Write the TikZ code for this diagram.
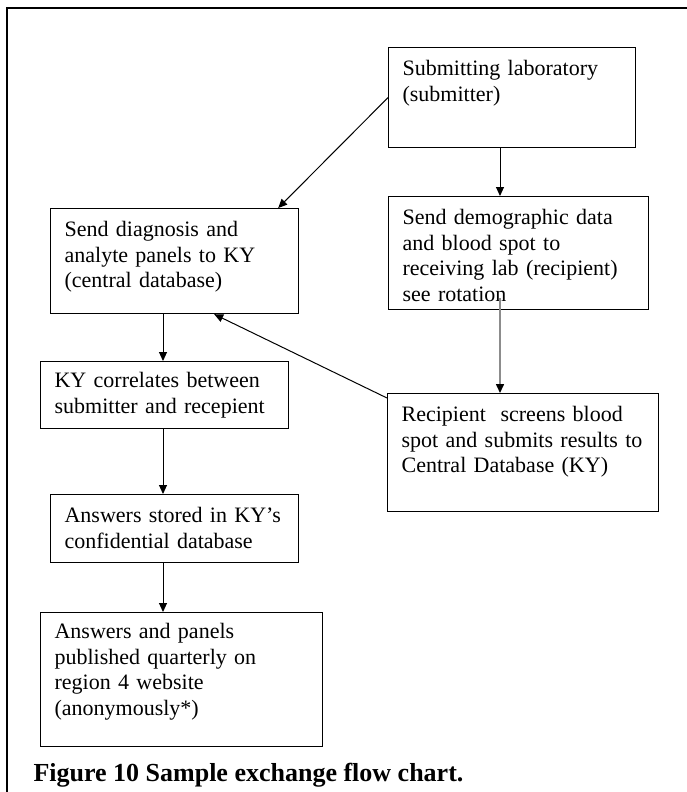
\documentclass[tikz,border=0pt]{standalone}
\usepackage{fontspec}
\setmainfont{Liberation Serif}
\usetikzlibrary{arrows.meta, positioning}
\tikzstyle{stepbox}=[draw, line width=1.2pt, anchor=north west, align=left, inner xsep=14pt, inner ysep=0pt, text height=28pt, font=\fontsize{22}{25.5}\selectfont]
\tikzstyle{flow}=[->, line width=1pt]

\begin{document}
\begin{tikzpicture}[x=1pt, y=-1pt, >={Triangle[length=9pt, width=8pt]}]
  \useasboundingbox (0,0) rectangle (687,792);
  % page frame
  \draw[line width=2.5pt] (7,792) -- (7,8) -- (687,8);

  \coordinate (rcol) at (500,0);
  \coordinate (lcol) at (163,0);

  \node[stepbox, text width=219pt, text depth=72pt] (sub)    at (388,47)  {Submitting laboratory\\(submitter)};
  \node[stepbox, text width=232pt, text depth=85pt] (demo)   at (388,196) {Send demographic data\\and blood spot to\\receiving lab (recipient)\\see rotation};
  \node[stepbox, text width=220pt, text depth=77pt] (diag)   at (50,208)  {Send diagnosis and\\analyte panels to KY\\(central database)};
  \node[stepbox, text width=243pt, text depth=90pt] (recip)  at (387,393) {Recipient~ screens blood\\spot and submits results to\\Central Database (KY)};
  \node[stepbox, text width=220pt, text depth=41pt, text height=26pt] (corr) at (40,361) {KY correlates between\\submitter and recepient};
  \node[stepbox, text width=220pt, text depth=40pt] (stored) at (50,494)  {Answers stored in KY's\\confidential database};
  \node[stepbox, text width=254pt, text depth=108pt, text height=26pt] (panels) at (40,612) {Answers and panels\\published quarterly on\\region 4 website\\(anonymously*)};

  \node[anchor=base west, font=\bfseries\fontsize{26}{30}\selectfont] (caption) at (30,781) {Figure 10 Sample exchange flow chart.};

  % connectors
  \draw[flow] (sub.south -| rcol) -- (demo.north -| rcol);
  \draw[flow] (sub.west) -- ([xshift=-21pt]diag.north east);
  \draw[-{Triangle[length=9pt, width=8pt, black]}, draw=black!45, line width=1.5pt] ([yshift=12pt]demo.south -| rcol) -- (recip.north -| rcol);
  \draw[flow] ([yshift=-5pt]recip.north west) -- ([xshift=-85pt]diag.south east);
  \draw[flow] (diag.south -| lcol) -- (corr.north -| lcol);
  \draw[flow] (corr.south -| lcol) -- (stored.north -| lcol);
  \draw[flow] (stored.south -| lcol) -- (panels.north -| lcol);
\end{tikzpicture}
\end{document}
